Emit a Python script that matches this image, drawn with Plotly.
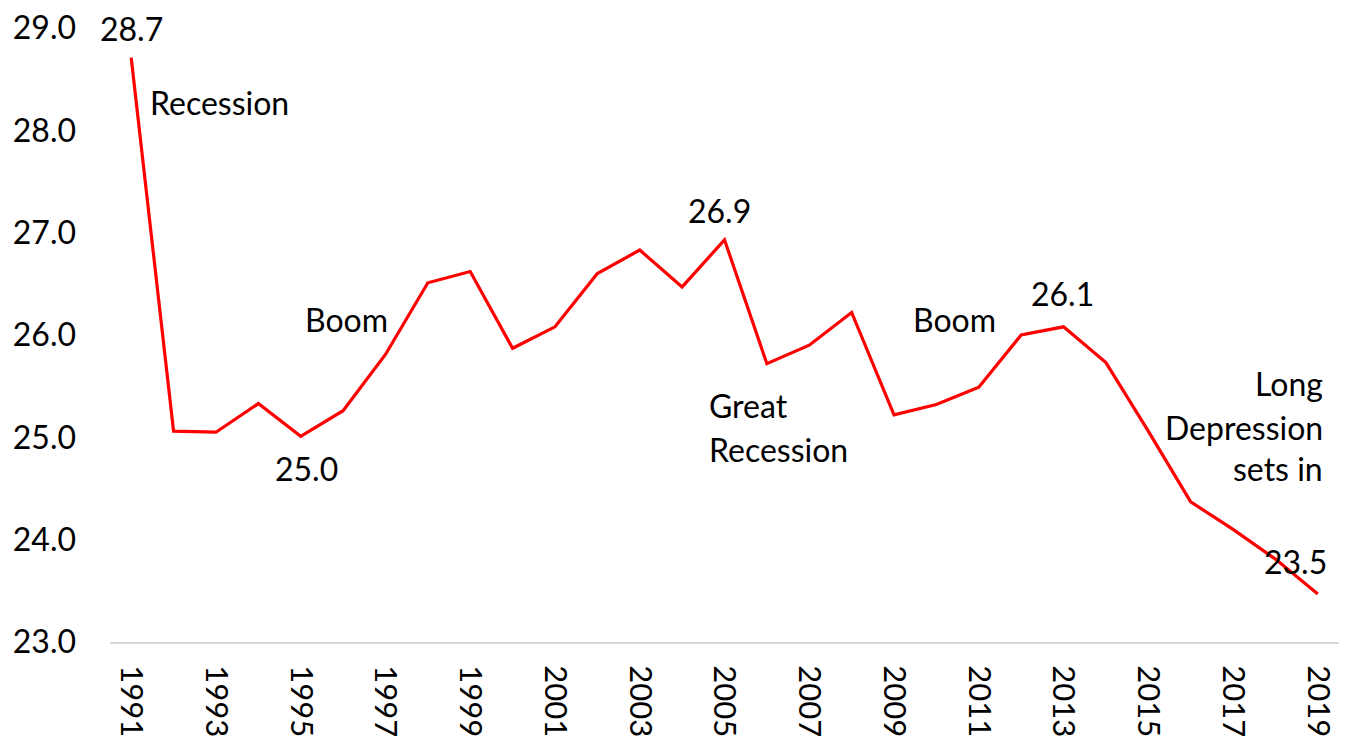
import plotly.graph_objects as go

years = list(range(1991, 2020))
values = [28.71, 25.06, 25.05, 25.33, 25.01, 25.26, 25.81, 26.51, 26.62, 25.87,
          26.08, 26.60, 26.83, 26.47, 26.93, 25.72, 25.90, 26.22, 25.22, 25.32,
          25.49, 26.00, 26.08, 25.73, 25.06, 24.37, 24.10, 23.81, 23.47]
tick_years = list(range(1991, 2020, 2))
y_ticks = [23, 24, 25, 26, 27, 28, 29]

# annotation labels: (text, x, y, xanchor)
labels = [
    ("Recession", 1991.4, 28.27, "left"),
    ("25.0", 1995.13, 24.70, "center"),
    ("Boom", 1996.09, 26.15, "center"),
    ("26.9", 2004.89, 27.22, "center"),
    ("Great", 2004.58, 25.31, "left"),
    ("Recession", 2004.58, 24.88, "left"),
    ("Boom", 2010.43, 26.15, "center"),
    ("26.1", 2012.98, 26.41, "center"),
    ("Long", 2019.18, 25.53, "right"),
    ("Depression", 2019.18, 25.10, "right"),
    ("sets in", 2019.18, 24.70, "right"),
    ("23.5", 2018.48, 23.79, "center"),
]

FONT = "Lato, 'Open Sans', sans-serif"
FS = 32

fig = go.Figure()
fig.add_trace(go.Scatter(
    x=years, y=values, mode="lines",
    line=dict(color="#FF0000", width=3.2),
    hoverinfo="x+y", showlegend=False,
))

for text, x, y, xa in labels:
    fig.add_annotation(x=x, y=y, xref="x", yref="y", text=text, showarrow=False,
                       xanchor=xa, yanchor="middle",
                       font=dict(family=FONT, size=FS, color="#000000"))

# peak label above first point
fig.add_annotation(x=years[0], y=values[0], xref="x", yref="y", text="28.7",
                   showarrow=False, xanchor="center", yanchor="middle", yshift=29,
                   borderpad=0,
                   font=dict(family=FONT, size=FS, color="#000000"))

# page body has an 8px default margin; size the figure to fit the window
fig.update_layout(
    width=1356, height=734,
    margin=dict(l=102, r=25, t=20, b=100),
    paper_bgcolor="white", plot_bgcolor="white",
    font=dict(family=FONT, size=FS, color="#000000"),
    xaxis=dict(
        range=[1990.5, 2019.5], tickmode="array", tickvals=tick_years,
        ticktext=[str(y) for y in tick_years], tickangle=90,
        showgrid=False, zeroline=False, showline=True,
        linecolor="#D9D9D9", linewidth=2, ticks="",
        ticklabelstandoff=15, automargin=False, ticklabeloverflow="allow",
        tickfont=dict(family=FONT, size=31),
    ),
    yaxis=dict(
        range=[23, 29], tickmode="array", tickvals=y_ticks,
        ticktext=[f"{v:.1f}" for v in y_ticks],
        showgrid=False, zeroline=False, showline=False, ticks="",
        ticklabelstandoff=33, automargin=False, ticklabeloverflow="allow",
        tickfont=dict(family=FONT, size=FS),
    ),
)

fig.write_html("out.html")
